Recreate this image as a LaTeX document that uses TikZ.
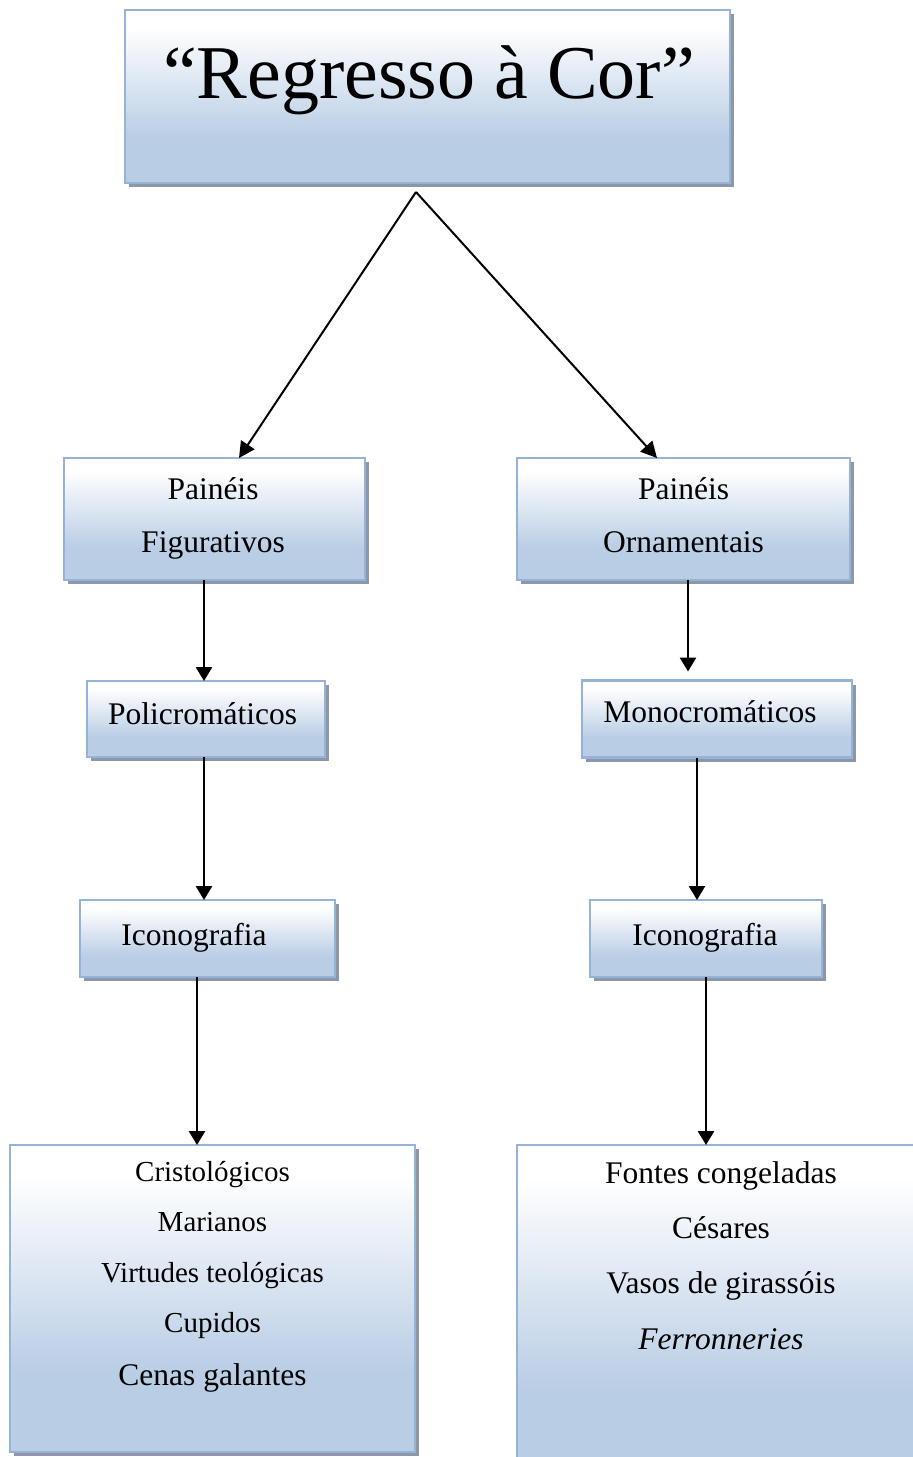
\documentclass[tikz,border=0pt]{standalone}
\usepackage{fontspec}
\setmainfont{Liberation Serif}
\usetikzlibrary{arrows.meta,shadows}
\definecolor{boxblue}{RGB}{185,205,229}
\definecolor{boxline}{RGB}{149,179,215}
\definecolor{shadowcol}{RGB}{140,152,170}
\pgfdeclareverticalshading{boxshade}{100bp}{color(0bp)=(boxblue); color(25bp)=(boxblue); color(38bp)=(boxblue); color(70bp)=(white); color(100bp)=(white)}
\begin{document}
\begin{tikzpicture}[x=1pt,y=-1pt,
  box/.style={draw=boxline, line width=2.2pt, shading=boxshade,
    drop shadow={shadow xshift=4pt,shadow yshift=-4pt,fill=shadowcol,opacity=1},
    inner sep=0pt, outer sep=0pt},
  txt/.style={anchor=base, inner sep=0pt, font=\fontsize{31.5}{38}\selectfont},
  smalltxt/.style={anchor=base, inner sep=0pt, font=\fontsize{29}{35}\selectfont},
  titletxt/.style={anchor=base, inner sep=0pt, font=\fontsize{76}{90}\selectfont},
  arr/.style={line width=2.6pt, -{Triangle[length=14pt,width=16pt]}},
  diag/.style={line width=2pt, -{Triangle[length=16pt,width=16pt]}},
]
\useasboundingbox (0,0) rectangle (913,1457);
\clip (0,0) rectangle (913,1457);
\fill[white] (0,0) rectangle (913,1457);

% boxes
\node[box, minimum width=605pt, minimum height=173pt] (top) at (427.5,96.5) {};
\node[box, minimum width=301pt, minimum height=122pt] (pf) at (214.5,519) {};
\node[box, minimum width=333pt, minimum height=122pt] (po) at (683.5,519) {};
\node[box, minimum width=238pt, minimum height=76pt] (poli) at (206,719) {};
\node[box, minimum width=270pt, minimum height=77pt] (mono) at (717,719) {};
\node[box, minimum width=255pt, minimum height=77pt] (icl) at (207.5,938.5) {};
\node[box, minimum width=232pt, minimum height=77pt] (icr) at (706,938.5) {};
\node[box, minimum width=405pt, minimum height=307pt] (botl) at (212.5,1298.5) {};
\node[box, minimum width=413pt, minimum height=330pt] (botr) at (723.5,1310) {};

% texts
\node[titletxt] (ttitle) at (429,98) {“Regresso à Cor”};
\node[txt] (tpf1) at (213,499) {Painéis};
\node[txt] (tpf2) at (213,552) {Figurativos};
\node[txt] (tpo1) at (683.5,499) {Painéis};
\node[txt] (tpo2) at (683.5,552) {Ornamentais};
\node[txt] (tpoli) at (202.5,724) {Policromáticos};
\node[txt] (tmono) at (710,722) {Monocromáticos};
\node[txt] (ticl) at (194,945) {Iconografia};
\node[txt] (ticr) at (705,945) {Iconografia};
\node[smalltxt] (l1) at (212.5,1181) {Cristológicos};
\node[smalltxt] (l2) at (212.5,1231) {Marianos};
\node[smalltxt] (l3) at (212.5,1282) {Virtudes teológicas};
\node[smalltxt] (l4) at (212.5,1332) {Cupidos};
\node[txt] (l5) at (212.5,1385) {Cenas galantes};
\node[txt] (r1) at (721,1183) {Fontes congeladas};
\node[txt] (r2) at (721,1238) {Césares};
\node[txt] (r3) at (721,1293) {Vasos de girassóis};
\node[txt] (r4) at (721,1349) {\itshape Ferronneries};

% connector helpers
\coordinate (apex) at (416,192);
\coordinate (xl) at (239,0);
\coordinate (xr) at (657,0);
\coordinate (x1) at (204,0);
\coordinate (x2) at (688,0);
\coordinate (x3) at (697,0);
\coordinate (x4) at (197,0);
\coordinate (x5) at (706,0);

\draw[diag] (apex) -- (pf.north -| xl);
\draw[diag] (apex) -- (po.north -| xr);
\draw[arr] (pf.south -| x1) -- (poli.north -| x1);
\draw[arr, shorten >=9pt] (po.south -| x2) -- (mono.north -| x2);
\draw[arr] (poli.south -| x1) -- (icl.north -| x1);
\draw[arr] (mono.south -| x3) -- (icr.north -| x3);
\draw[arr] (icl.south -| x4) -- (botl.north -| x4);
\draw[arr] (icr.south -| x5) -- (botr.north -| x5);
\end{tikzpicture}
\end{document}
